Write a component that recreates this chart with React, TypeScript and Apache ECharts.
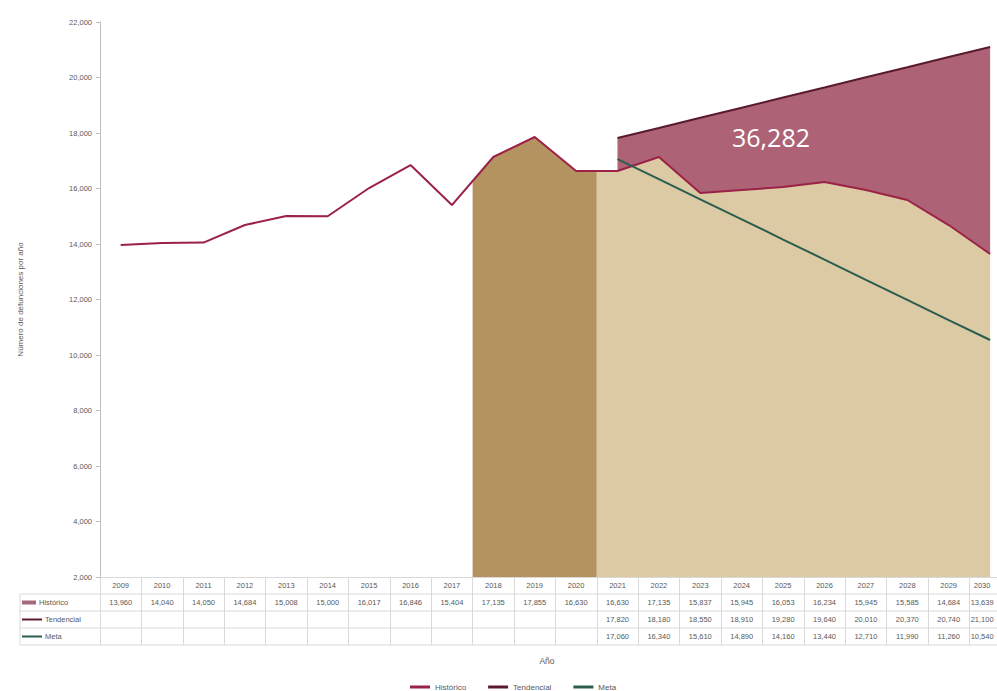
import React, { useEffect, useRef } from 'react';
import * as echarts from 'echarts';

const years = ['2009', '2010', '2011', '2012', '2013', '2014', '2015', '2016', '2017', '2018', '2019',
  '2020', '2021', '2022', '2023', '2024', '2025', '2026', '2027', '2028', '2029', '2030'];

const historico = [13960, 14040, 14050, 14684, 15008, 15000, 16017, 16846, 15404, 17135, 17855,
  16630, 16630, 17135, 15837, 15945, 16053, 16234, 15945, 15585, 14684, 13639];

const tendencial: (number | null)[] = [null, null, null, null, null, null, null, null, null, null, null, null,
  17820, 18180, 18550, 18910, 19280, 19640, 20010, 20370, 20740, 21100];

const meta: (number | null)[] = [null, null, null, null, null, null, null, null, null, null, null, null,
  17060, 16340, 15610, 14890, 14160, 13440, 12710, 11990, 11260, 10540];

// index ranges of the shaded periods
const observedBand = [9, 11];
const projectionBand = [12, 21];

const seriesNames = ['Histórico', 'Tendencial', 'Meta'];
const gapLabel = '36,282';
const yAxisTitle = 'Número de defunciones por año';
const xAxisTitle = 'Año';

const C = {
  hist: '#9b2247',
  tend: '#5a1a2e',
  meta: '#2a5d4f',
  gap: '#ad6275',
  gapKey: '#a6697a',
  tan: '#dbcaa4',
  brown: '#b49361',
  text: '#595959',
  grid: '#d9d9d9',
  axis: '#bfbfbf',
};

const fmt = (v: number | null) => (v == null ? '' : Math.round(v).toLocaleString('en-US'));

export default function App() {
  const ref = useRef<HTMLDivElement>(null);
  useEffect(() => {
    document.body.style.margin = '0';
    const chart = echarts.init(ref.current!, null, { renderer: 'svg' });

    const L = 100, T = 22, n = years.length;
    const colW = 41.4;
    const W = colW * n, H = 555;
    const B = T + H;
    const rowH = 17;
    const font = 'Liberation Sans, Arial, sans-serif';

    const mid = (i: number) => (historico[i] + historico[i + 1]) / 2;
    const bandData = (a: number, b: number, withRightEdge: boolean) => {
      const d: number[][] = [[a - 0.5, mid(a - 1)]];
      for (let i = a; i <= b; i++) d.push([i, historico[i]]);
      if (withRightEdge) d.push([b + 0.5, mid(b)]);
      return d;
    };

    const base = historico.map((v, i) => (tendencial[i] == null ? '-' : v));
    const gap = historico.map((v, i) => (tendencial[i] == null ? '-' : (tendencial[i] as number) - v));

    // the last column is partly outside the page: keep its labels inside
    const cells = (labels: string[]) => labels.map((s, i) =>
      i === labels.length - 1 ? { value: s, textStyle: { padding: [0, 16, 0, 0] } } : s);

    const rows = [historico, tendencial, meta];

    const tableAxes = rows.map((r, k) => ({
      type: 'category',
      gridIndex: 0,
      position: 'bottom',
      offset: rowH * (k + 1),
      data: cells(r.map(fmt)),
      axisLine: { show: false },
      axisTick: { show: false },
      splitLine: { show: false },
      axisLabel: { interval: 0, fontSize: 7.5, color: C.text, margin: 4.5, fontFamily: font },
    }));

    const graphics: any[] = [];
    for (let k = 1; k <= 4; k++) {
      const y = B + rowH * k;
      graphics.push({ type: 'line', shape: { x1: 20, y1: y, x2: 1011, y2: y }, style: { stroke: C.grid, lineWidth: 1 }, silent: true });
    }
    graphics.push({ type: 'line', shape: { x1: 20, y1: B + rowH, x2: 20, y2: B + rowH * 4 }, style: { stroke: C.grid, lineWidth: 1 } });
    const keyColors = [C.gapKey, C.tend, C.meta];
    seriesNames.forEach((name, k) => {
      const cy = B + rowH * (k + 1) + rowH / 2;
      if (k === 0) {
        graphics.push({ type: 'rect', shape: { x: 22, y: cy - 2, width: 14, height: 4 }, style: { fill: keyColors[k] } });
      } else {
        graphics.push({ type: 'line', shape: { x1: 22, y1: cy, x2: 42, y2: cy }, style: { stroke: keyColors[k], lineWidth: 2 } });
      }
      graphics.push({
        type: 'text', x: k === 0 ? 39 : 45, y: cy,
        style: { text: name, fill: C.text, fontSize: 7.5, fontFamily: font, verticalAlign: 'middle', align: 'left' },
      });
    });
    graphics.push({
      type: 'text', x: 547, y: 661,
      style: { text: xAxisTitle, fill: C.text, fontSize: 8.5, fontFamily: font, align: 'center', verticalAlign: 'middle' },
    });
    graphics.push({
      type: 'text', x: 771, y: 137, z: 100,
      style: { text: gapLabel, fill: '#ffffff', fontSize: 25, fontFamily: 'Open Sans, sans-serif', align: 'center', verticalAlign: 'middle' },
    });

    const option: any = {
      animation: false,
      textStyle: { fontFamily: font },
      grid: { left: L, top: T, width: W, height: H, containLabel: false, outerBoundsMode: 'none' },
      legend: {
        data: seriesNames,
        top: 678,
        left: 405,
        itemWidth: 20,
        itemHeight: 3,
        icon: 'rect',
        itemGap: 22,
        textStyle: { fontSize: 8, color: C.text, fontFamily: font },
      },
      xAxis: [
        {
          type: 'category',
          data: cells(years),
          boundaryGap: true,
          axisLine: { show: true, onZero: false, lineStyle: { color: C.grid } },
          axisTick: { show: true, interval: 0, length: rowH * 4, lineStyle: { color: C.grid } },
          axisLabel: { interval: 0, fontSize: 7.5, color: C.text, margin: 4.5, fontFamily: font },
          splitLine: { show: false },
        },
        ...tableAxes,
        { type: 'value', min: -0.5, max: n - 0.5, show: false, gridIndex: 0 },
      ],
      yAxis: {
        type: 'value',
        min: 2000,
        max: 22000,
        interval: 2000,
        name: yAxisTitle,
        nameLocation: 'middle',
        nameGap: 76,
        nameRotate: 90,
        nameTextStyle: { fontSize: 8, color: C.text, fontFamily: font },
        axisLine: { show: true, onZero: false, lineStyle: { color: C.axis } },
        axisTick: { show: true, length: 4, lineStyle: { color: C.axis } },
        splitLine: { show: false },
        axisLabel: { fontSize: 7.5, color: C.text, margin: 8, fontFamily: font, formatter: (v: number) => v.toLocaleString('en-US') },
      },
      series: [
        {
          name: 'band-observed', type: 'line', xAxisIndex: 4, data: bandData(observedBand[0], observedBand[1], true),
          symbol: 'none', lineStyle: { width: 0, opacity: 0 }, areaStyle: { color: C.brown, opacity: 1, origin: 'start' }, z: 1,
          silent: true,
        },
        {
          name: 'band-projection', type: 'line', xAxisIndex: 4, data: bandData(projectionBand[0], projectionBand[1], false),
          symbol: 'none', lineStyle: { width: 0, opacity: 0 }, areaStyle: { color: C.tan, opacity: 1, origin: 'start' }, z: 1,
          silent: true,
        },
        {
          name: 'gap-base', type: 'line', stack: 'gap', data: base, symbol: 'none',
          lineStyle: { width: 0, opacity: 0 }, z: 2, silent: true,
        },
        {
          name: 'gap-fill', type: 'line', stack: 'gap', data: gap, symbol: 'none',
          lineStyle: { width: 0, opacity: 0 }, areaStyle: { color: C.gap, opacity: 1 }, z: 2, silent: true,
        },
        {
          name: seriesNames[0], type: 'line', data: historico, symbol: 'none', color: C.hist,
          lineStyle: { width: 2, color: C.hist }, z: 5,
        },
        {
          name: seriesNames[1], type: 'line', data: tendencial.map(v => (v == null ? '-' : v)), symbol: 'none', color: C.tend,
          lineStyle: { width: 2, color: C.tend }, z: 5,
        },
        {
          name: seriesNames[2], type: 'line', data: meta.map(v => (v == null ? '-' : v)), symbol: 'none', color: C.meta,
          lineStyle: { width: 2, color: C.meta }, z: 6,
        },
      ],
      graphic: graphics,
    };
    chart.setOption(option);
    return () => chart.dispose();
  }, []);
  return <div ref={ref} style={{ width: 997, height: 691 }} />;
}
